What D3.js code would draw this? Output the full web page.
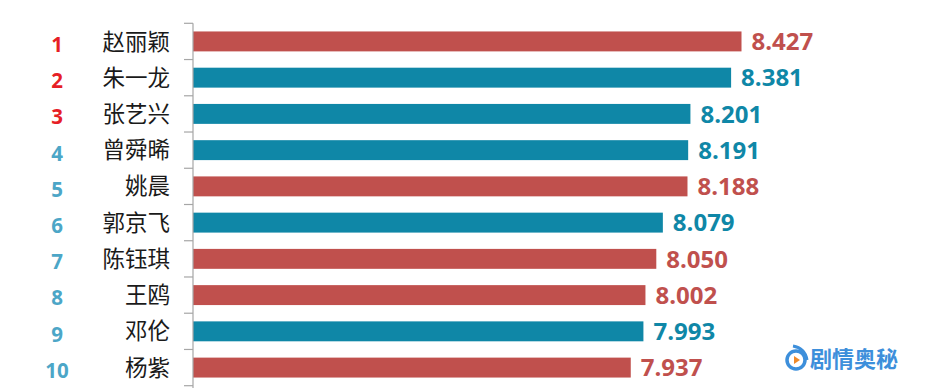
<!DOCTYPE html>
<html><head><meta charset="utf-8">
<script src="https://cdn.jsdelivr.net/npm/d3@7"></script>
<style>body{margin:0;background:#fff}</style>
</head><body>
<svg id="c" width="928" height="388"></svg>
<script>
const names = ["赵丽颖","朱一龙","张艺兴","曾舜晞","姚晨","郭京飞","陈钰琪","王鸥","邓伦","杨紫"];
const ranks = ["1","2","3","4","5","6","7","8","9","10"];
const values = [8.427,8.381,8.201,8.191,8.188,8.079,8.050,8.002,7.993,7.937];
const groups = ["f","m","m","m","f","m","f","f","m","f"];
const valueLabels = ["8.427","8.381","8.201","8.191","8.188","8.079","8.050","8.002","7.993","7.937"];

const colors = {f:"#c0504d", m:"#0f87a7"};
const svg = d3.select("#c");
const x = d3.scaleLinear().domain([6, 8.5]).range([193, 758]);
const y = d3.scaleBand().domain(names).range([23.3, 385.7]).paddingInner(0.45).paddingOuter(0.225);

// bars
svg.selectAll("rect.bar").data(names).join("rect")
  .attr("x", x(6)).attr("y", d => y(d))
  .attr("width", (d,i) => x(values[i]) - x(6))
  .attr("height", y.bandwidth())
  .attr("fill", (d,i) => colors[groups[i]]);

// axis
const ax = svg.append("g").attr("transform", `translate(${x(6)},0)`);
ax.append("line").attr("x1",0).attr("x2",0).attr("y1",23.3).attr("y2",388).attr("stroke","#a6a6a6").attr("stroke-width",1.2);
const boundaries = d3.range(names.length + 1).map(i => 23.3 + i * y.step());
ax.selectAll("line.t").data(boundaries).join("line")
  .attr("x1",-9).attr("x2",0).attr("y1",d=>d).attr("y2",d=>d)
  .attr("stroke","#a6a6a6").attr("stroke-width",1.2);

// names
svg.selectAll("text.name").data(names).join("text")
  .attr("x", 170).attr("y", d => y(d) + y.bandwidth()/2)
  .attr("dy","0.36em")
  .attr("text-anchor","end")
  .attr("font-family","'Noto Sans CJK SC', sans-serif")
  .attr("font-size", 22.5).attr("fill","#1a1a1a")
  .text(d => d);

// ranks
svg.selectAll("text.rank").data(ranks).join("text")
  .attr("x", 57).attr("y", (d,i) => y(names[i]) + y.bandwidth()/2 + 3)
  .attr("dy","0.36em")
  .attr("text-anchor","middle")
  .attr("font-family","'Open Sans', sans-serif").attr("font-weight","bold")
  .attr("font-size", 20.5)
  .attr("fill", (d,i) => i < 3 ? "#e61e26" : "#4ca6c7")
  .text(d => d);

// value labels
svg.selectAll("text.val").data(valueLabels).join("text")
  .attr("x", (d,i) => x(values[i]) + 10)
  .attr("y", (d,i) => y(names[i]) + y.bandwidth()/2)
  .attr("dy","0.36em")
  .attr("font-family","'Open Sans', sans-serif").attr("font-weight","bold")
  .attr("font-size", 24)
  .attr("fill", (d,i) => colors[groups[i]])
  .text(d => d);

// watermark
const wm = svg.append("g").attr("transform","translate(796,358)");
wm.append("circle").attr("r",9).attr("cx",0).attr("cy",2).attr("fill","none").attr("stroke","#3d8fdb").attr("stroke-width",3.5);
wm.append("path").attr("d","M-3,-12 Q9,-10 11,2").attr("fill","none").attr("stroke","#3d8fdb").attr("stroke-width",3);
wm.append("path").attr("d","M-2,-2 L4,2 L-2,6 Z").attr("fill","#f08a2a");
wm.append("text").attr("x",14).attr("y",9)
  .attr("font-family","'Noto Sans CJK SC', sans-serif").attr("font-weight","bold")
  .attr("font-size",22).attr("fill","#3d8fdb").text("剧情奥秘");
</script>
</body></html>
